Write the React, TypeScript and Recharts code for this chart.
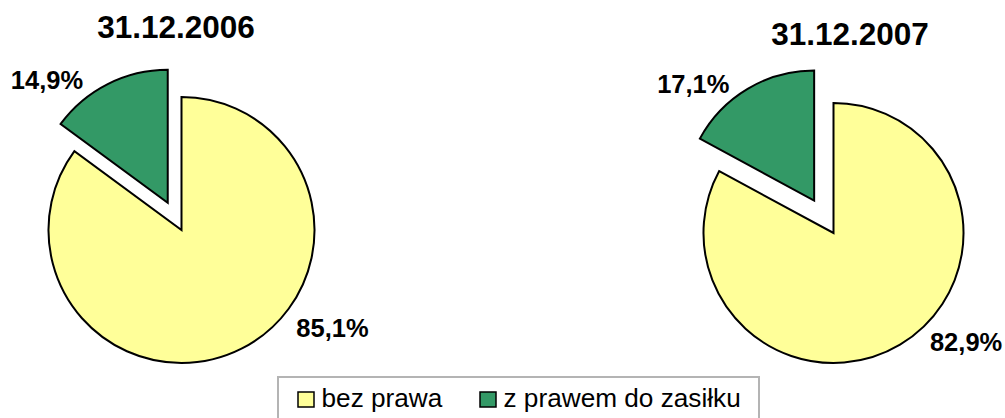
import React from "react";
import { PieChart, Pie, Cell, Legend } from "recharts";

const categories = ["bez prawa", "z prawem do zasiłku"];
const dates = ["31.12.2006", "31.12.2007"];
const share2006 = [85.1, 14.9];
const share2007 = [82.9, 17.1];

const COLORS = ["#FFFF99", "#339966"];
const FONT = "Arial, 'Liberation Sans', sans-serif";

// layout of each pie (center, radius, explode distance of the green slice, label spots)
const PIES = [
  {
    title: dates[0],
    values: share2006,
    cx: 181.5,
    cy: 230,
    r: 133,
    explode: 30.5,
    titleX: 176,
    titleY: 38,
    labels: [
      { angle: -33, dist: 180 },
      { angle: 134.6, dist: 172 },
    ],
  },
  {
    title: dates[1],
    values: share2007,
    cx: 833.5,
    cy: 233,
    r: 130,
    explode: 37.8,
    titleX: 850,
    titleY: 45,
    labels: [
      { angle: -39.4, dist: 171.6 },
      { angle: 136, dist: 168 },
    ],
  },
];

const fmt = (v: number) => v.toFixed(1).replace(".", ",") + "%";

function midAngleOf(values: number[], idx: number) {
  const total = values.reduce((a, b) => a + b, 0);
  let before = 0;
  for (let i = 0; i < idx; i++) before += values[i];
  return 90 - (360 * (before + values[idx] / 2)) / total;
}

function makeLabel(show: number, spots: { angle: number; dist: number }[]) {
  return (props: any) => {
    const { cx, cy, index, value } = props;
    if (index !== show) return null;
    const a = (spots[index].angle * Math.PI) / 180;
    const x = cx + spots[index].dist * Math.cos(a);
    const y = cy - spots[index].dist * Math.sin(a);
    return (
      <text
        key={`lbl-${index}`}
        x={x}
        y={y + 9}
        textAnchor="middle"
        fontFamily={FONT}
        fontWeight="bold"
        fontSize={25.5}
        fill="#000"
      >
        {fmt(value)}
      </text>
    );
  };
}

const renderLegend = () => (
  <svg width={483} height={44} style={{ display: "block" }}>
    <rect x={1} y={1} width={481} height={60} fill="#fff" stroke="#b4b4b4" strokeWidth={2} />
    {categories.map((c, i) => {
      const bx = i === 0 ? 21 : 203;
      return (
        <g key={c}>
          <rect x={bx} y={16} width={16} height={15} fill={COLORS[i]} stroke="#000" strokeWidth={1.5} />
          <text x={bx + 23.5} y={30.5} fontFamily={FONT} fontSize={26.2} fill="#000">
            {c}
          </text>
        </g>
      );
    })}
  </svg>
);

export default function App() {
  return (
    <div style={{ position: "absolute", left: 0, top: 0, width: 1005, height: 418, background: "#fff" }}>
      <PieChart width={1005} height={418} margin={{ top: 0, right: 0, bottom: 0, left: 0 }}>
        {PIES.map((p, pi) => {
          const data = categories.map((name, i) => ({ name, value: p.values[i] }));
          const mid = (midAngleOf(p.values, 1) * Math.PI) / 180;
          const ex = p.cx + p.explode * Math.cos(mid);
          const ey = p.cy - p.explode * Math.sin(mid);
          return [
            <Pie
              key={`base-${pi}`}
              data={data}
              dataKey="value"
              nameKey="name"
              cx={p.cx}
              cy={p.cy}
              outerRadius={p.r}
              startAngle={90}
              endAngle={-270}
              labelLine={false}
              label={makeLabel(0, p.labels)}
              isAnimationActive={false}
            >
              {data.map((d, i) => (
                <Cell
                  key={`b-${i}`}
                  fill={i === 0 ? COLORS[0] : "none"}
                  stroke={i === 0 ? "#000" : "none"}
                  strokeWidth={2}
                />
              ))}
            </Pie>,
            <Pie
              key={`expl-${pi}`}
              data={data}
              dataKey="value"
              nameKey="name"
              cx={ex}
              cy={ey}
              outerRadius={p.r}
              startAngle={90}
              endAngle={-270}
              labelLine={false}
              label={makeLabel(1, p.labels)}
              isAnimationActive={false}
              legendType="none"
            >
              {data.map((d, i) => (
                <Cell
                  key={`e-${i}`}
                  fill={i === 1 ? COLORS[1] : "none"}
                  stroke={i === 1 ? "#000" : "none"}
                  strokeWidth={2}
                />
              ))}
            </Pie>,
          ];
        })}
        {PIES.map((p) => (
          <text
            key={p.title}
            x={p.titleX}
            y={p.titleY}
            textAnchor="middle"
            fontFamily={FONT}
            fontWeight="bold"
            fontSize={31.5}
            fill="#000"
          >
            {p.title}
          </text>
        ))}
        <Legend
          content={renderLegend}
          wrapperStyle={{ position: "absolute", left: 277, top: 376, bottom: "auto", width: 483 }}
        />
      </PieChart>
    </div>
  );
}
